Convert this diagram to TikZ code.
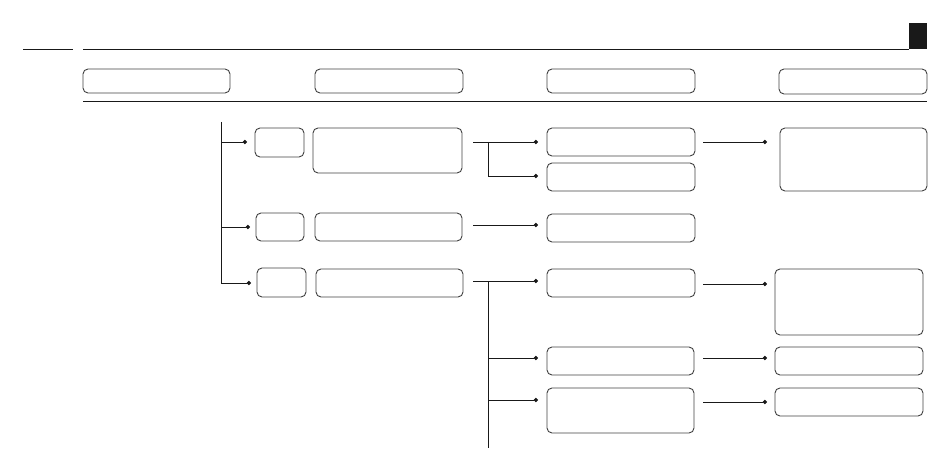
\documentclass[tikz,border=0pt]{standalone}
\usetikzlibrary{arrows.meta}
\begin{document}
\begin{tikzpicture}[x=1pt,y=-1pt,
  box/.style={draw=black!75,line width=0.9pt,rounded corners=5pt,minimum width=148pt,minimum height=28pt,inner sep=0pt},
  conn/.style={draw=black!90,line width=0.8pt},
  dotend/.style={conn,-{Circle[length=4.2pt]}}]
\useasboundingbox (0,0) rectangle (950,473);
% header rules
\coordinate (r0a) at (23,49); \coordinate (r0b) at (73,49);
\coordinate (r1a) at (83,49); \coordinate (r1b) at (909,49);
\coordinate (r2a) at (83,101); \coordinate (r2b) at (927,101);
\draw[conn] (r0a) -- (r0b);
\draw[conn] (r1a) -- (r1b);
\draw[conn] (r2a) -- (r2b);
\fill[black!90] (909,23) rectangle (927,49);
% header boxes
\node[box,minimum width=147pt,minimum height=24pt] (H1) at (156.5,81) {};
\node[box,minimum height=24pt] (H2) at (389,81) {};
\node[box,minimum height=24pt] (H3) at (621,81) {};
\node[box,minimum height=25pt] (H4) at (853,81.5) {};
% left column
\node[box,minimum width=49pt,minimum height=29pt] (S1) at (279.5,142.5) {};
\node[box,minimum width=149pt,minimum height=45pt] (L1) at (387.5,150.5) {};
\node[box,minimum width=48pt] (S2) at (280,227) {};
\node[box,minimum width=147pt] (L2) at (388.5,227) {};
\node[box,minimum width=49pt,minimum height=29pt] (S3) at (281.5,282.5) {};
\node[box,minimum width=147pt] (L3) at (389.5,283) {};
% middle column
\node[box] (B1) at (621,142) {};
\node[box] (B2) at (621,177) {};
\node[box] (B3) at (621,228) {};
\node[box] (B4) at (621,283) {};
\node[box,minimum width=147pt] (B5) at (620.5,361) {};
\node[box,minimum width=147pt,minimum height=45pt] (B6) at (620.5,410.5) {};
% right column
\node[box,minimum width=147pt,minimum height=63pt] (C1) at (853.5,159.5) {};
\node[box,minimum height=66pt] (C2) at (849,302) {};
\node[box] (C3) at (849,361) {};
\node[box] (C4) at (849,402) {};
% trunk on the left
\coordinate (t0) at (221,122);
\coordinate (t1) at (221,142);
\coordinate (t2) at (221,227);
\coordinate (t3) at (221,283);
\coordinate (d1) at (247,142);
\coordinate (d2) at (250,227);
\coordinate (d3) at (251,283);
\draw[conn] (t0) -- (t3);
\draw[dotend] (t1) -- (d1);
\draw[dotend] (t2) -- (d2);
\draw[dotend] (t3) -- (d3);
% from L1 to B1 and B2
\coordinate (a1) at (473,142);
\coordinate (j1) at (488,142);
\coordinate (e1) at (538,142);
\coordinate (e2) at (538,176);
\draw[dotend] (a1) -- (e1);
\draw[dotend] (j1) |- (e2);
% from L2 to B3
\coordinate (a2) at (473,225);
\coordinate (e3) at (538,225);
\draw[dotend] (a2) -- (e3);
% from L3 to B4, B5, B6
\coordinate (a3) at (473,281);
\coordinate (j3) at (488,281);
\coordinate (j4) at (488,448);
\coordinate (e4) at (538,281);
\coordinate (e5) at (538,358);
\coordinate (e6) at (538,400);
\draw[dotend] (a3) -- (e4);
\draw[conn] (j3) -- (j4);
\draw[dotend] (j3 |- e5) -- (e5);
\draw[dotend] (j3 |- e6) -- (e6);
% middle to right
\coordinate (m1) at (703,142); \coordinate (f1) at (767,142);
\coordinate (m2) at (703,284); \coordinate (f2) at (767,284);
\coordinate (m3) at (703,358); \coordinate (f3) at (767,358);
\coordinate (m4) at (703,402); \coordinate (f4) at (767,402);
\draw[dotend] (m1) -- (f1);
\draw[dotend] (m2) -- (f2);
\draw[dotend] (m3) -- (f3);
\draw[dotend] (m4) -- (f4);
\end{tikzpicture}
\end{document}
